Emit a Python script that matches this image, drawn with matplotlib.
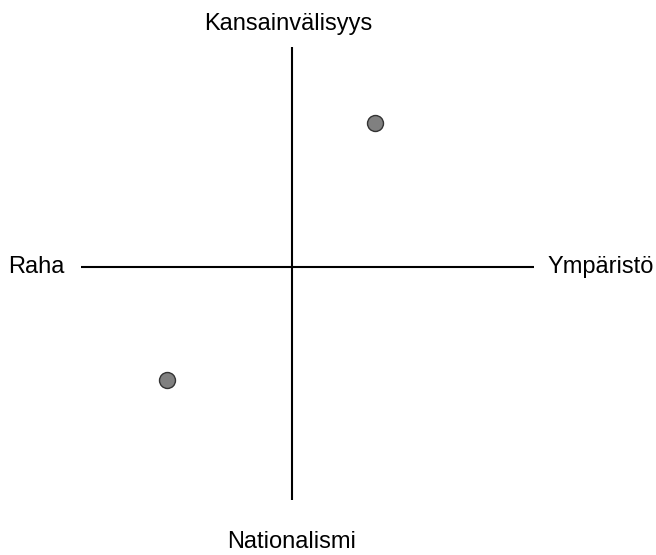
import matplotlib
matplotlib.use("Agg")
import matplotlib.pyplot as plt

# axis ends (center of the cross at 0,0)
h_axis = [-2.11, 2.42]
v_axis = [-2.33, 2.20]
# the two points
xs = [0.83, -1.25]
ys = [1.44, -1.13]
labels = ["Kansainvälisyys", "Nationalismi", "Raha", "Ympäristö"]

plt.rcParams["font.family"] = ["Liberation Sans", "DejaVu Sans"]

fig = plt.figure(figsize=(6.56, 5.55), dpi=100)
ax = fig.add_axes([0, 0, 1, 1])
ax.set_xlim(-2.92, 3.64)
ax.set_ylim(-2.88, 2.67)
ax.axis("off")

ax.plot(h_axis, [0, 0], color="black", lw=1.5, solid_capstyle="butt")
ax.plot([0, 0], v_axis, color="black", lw=1.5, solid_capstyle="butt")
ax.plot(xs, ys, "o", ms=11.5, mfc="#808080", mec="#333333", mew=1)

fs = 17
ax.text(-0.04, 2.43, labels[0], ha="center", va="center", fontsize=fs)
ax.text(0.0, -2.75, labels[1], ha="center", va="center", fontsize=fs)
ax.text(-2.27, 0, labels[2], ha="right", va="center", fontsize=fs)
ax.text(2.56, 0, labels[3], ha="left", va="center", fontsize=fs)

fig.savefig("out.png", dpi=100)
